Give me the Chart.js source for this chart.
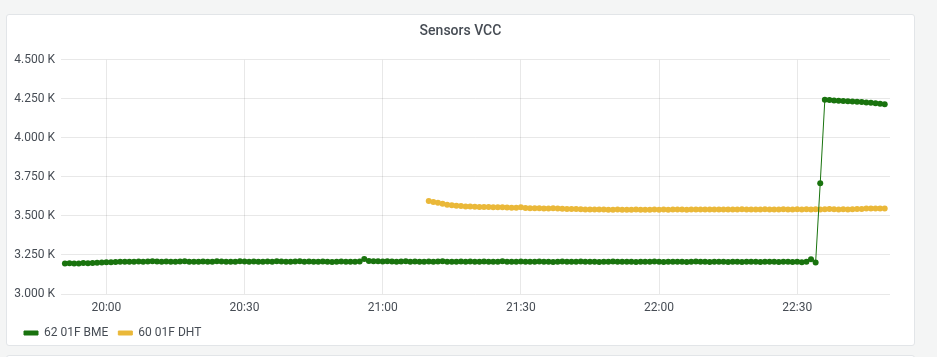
<!DOCTYPE html>
<html>
<head>
<meta charset="utf-8">
<script src="https://cdn.jsdelivr.net/npm/chart.js@4/dist/chart.umd.min.js"></script>
<style>
  html,body{margin:0;padding:0;background:#f4f5f5;width:937px;height:357px;overflow:hidden;font-family:Roboto,sans-serif;}
  #panel{position:absolute;left:6px;top:14px;width:909px;height:332px;box-sizing:border-box;background:#fff;border:1px solid #e2e5e8;border-radius:3px;}
  #next{position:absolute;left:6px;top:355px;width:909px;height:20px;box-sizing:border-box;background:#fff;border:1px solid #e2e5e8;border-radius:3px;}
  #wrap{position:absolute;left:6px;top:14px;width:909px;height:335px;}
</style>
</head>
<body>
<div id="panel"></div>
<div id="next"></div>
<div id="wrap"><canvas id="c" width="909" height="335"></canvas></div>
<script>
// ---- data ----
const chartTitle = 'Sensors VCC';
const seriesNames = ['62 01F BME', '60 01F DHT'];
const seriesColors = ['#19730E', '#EAB839'];
const xTickLabels = ['20:00', '20:30', '21:00', '21:30', '22:00', '22:30'];
const yTickValues = [3000, 3250, 3500, 3750, 4000, 4250, 4500];
const xRange = ['19:50:09', '22:50:09'];
const sampleIntervalMin = 1;

// 62 01F BME, one sample per minute from 19:51
const bmeStart = '19:51';
const bmeValues = [
  3196,3197,3196,3195,3198,3197,3199,3200,3201,3203,
  3204,3205,3206,3207,3206,3207,3208,3207,3208,3209,3208,
  3207,3208,3207,3206,3208,3209,3207,3206,3207,3208,
  3206,3207,3209,3208,3207,3206,3207,3209,3208,3207,
  3208,3207,3206,3208,3207,3209,3208,3206,3207,3208,
  3209,3207,3208,3206,3207,3208,3207,3205,3207,3208,
  3206,3207,3206,3208,
  3224,
  3212,3210,3209,3208,3209,
  3208,3207,3208,3209,3207,3208,3207,3206,3208,3207,
  3208,3209,3207,3206,3207,3208,3207,3208,3206,3207,
  3208,3207,3206,3207,3209,3207,3206,3207,3208,3207,
  3206,3207,3208,3207,3206,3205,3207,3208,3207,3206,
  3207,3208,3206,3207,3206,3205,3207,3206,3208,3207,
  3206,3207,3206,3205,3207,3206,3207,3208,3206,3205,
  3206,3207,3206,3207,3205,3206,3208,3207,3206,3205,
  3206,3207,3206,3205,3207,3206,3205,3206,3207,3206,
  3205,3206,3207,3206,3205,3206,3207,3205,3206,3204,3206,
  3222,
  3202,
  3709,
  4244,4242,4240,4238,4236,4234,4233,4231,4229,4227,4225,4222,4219,4216
];

// 60 01F DHT, one sample per minute from 21:10
const dhtStart = '21:10';
const dhtValues = [
  3596,3590,3584,3578,3572,3568,3565,3563,3561,3560,
  3559,3558,3557,3557,3556,3555,3555,3554,3553,3553,
  3555,3551,3550,3549,3549,3548,3547,3550,3547,3546,
  3545,3545,3544,3543,3542,3542,3541,3542,3541,3540,
  3540,3541,3540,3539,3540,3541,3540,3539,3540,3541,
  3540,3541,3540,3541,3542,3541,3540,3541,3542,3541,
  3541,3542,3541,3542,3541,3542,3541,3542,3543,3542,
  3542,3541,3542,3543,3542,3541,3542,3543,3542,3542,
  3543,3542,3543,3542,3543,3542,3543,3544,3543,3542,
  3543,3542,3543,3544,3545,3547,3548,3547,3548,3547
];

// ---- helpers ----
function toMin(s){ const p = s.split(':').map(Number); return p[0]*60 + p[1] + (p[2]||0)/60; }
function toPoints(start, values){
  const t0 = toMin(start);
  return values.map((v,i)=>({x: t0 + i*sampleIntervalMin, y: v}));
}
const xTickMins = xTickLabels.map(toMin);
const textColor = '#464c54';
const gridColor = 'rgba(0,0,0,0.09)';
const baseFont = {family: 'Roboto, sans-serif', size: 12};

function ds(name, color, pts){
  return {
    label: name, data: pts, yAxisID: 'y',
    borderColor: color, backgroundColor: color,
    pointBackgroundColor: color, pointBorderColor: color,
    pointRadius: 3, pointBorderWidth: 0, pointHoverRadius: 3,
    borderWidth: 1, tension: 0, fill: false
  };
}

new Chart(document.getElementById('c'), {
  type: 'line',
  data: {
    datasets: [
      ds(seriesNames[0], seriesColors[0], toPoints(bmeStart, bmeValues)),
      ds(seriesNames[1], seriesColors[1], toPoints(dhtStart, dhtValues))
    ]
  },
  options: {
    responsive: false,
    animation: false,
    layout: {padding: {left: 8, right: 8, top: 0, bottom: 0}},
    plugins: {
      title: {
        display: true, text: chartTitle, color: textColor,
        font: {family: 'Roboto, sans-serif', size: 14, weight: '500'},
        padding: {top: 9, bottom: 20}
      },
      legend: {
        display: true, position: 'bottom', align: 'start',
        labels: {
          color: textColor, font: baseFont,
          boxWidth: 14, boxHeight: 4, padding: 10
        }
      },
      tooltip: {enabled: false}
    },
    scales: {
      x: {
        type: 'linear',
        min: toMin(xRange[0]), max: toMin(xRange[1]),
        afterBuildTicks: (scale) => { scale.ticks = xTickMins.map(v => ({value: v})); },
        afterFit: (scale) => { scale.height = 23; },
        ticks: {
          color: textColor, font: baseFont, padding: 7, maxRotation: 0, autoSkip: false,
          callback: (v) => { const i = xTickMins.indexOf(v); return i >= 0 ? xTickLabels[i] : ''; }
        },
        grid: {color: gridColor, drawTicks: false},
        border: {display: false}
      },
      y: {
        position: 'left',
        min: yTickValues[0], max: yTickValues[yTickValues.length-1],
        afterBuildTicks: (scale) => { scale.ticks = yTickValues.map(v => ({value: v})); },
        afterFit: (scale) => { scale.width = 47; },
        ticks: {
          color: textColor, font: baseFont, padding: 6,
          callback: (v) => (v/1000).toFixed(3) + ' K'
        },
        grid: {color: gridColor, drawTicks: false},
        border: {display: false}
      },
      yRight: {
        position: 'right',
        min: yTickValues[0], max: yTickValues[yTickValues.length-1],
        afterFit: (scale) => { scale.width = 17; },
        ticks: {display: false},
        grid: {display: false, drawTicks: false},
        border: {display: false}
      }
    }
  }
});
</script>
</body>
</html>
